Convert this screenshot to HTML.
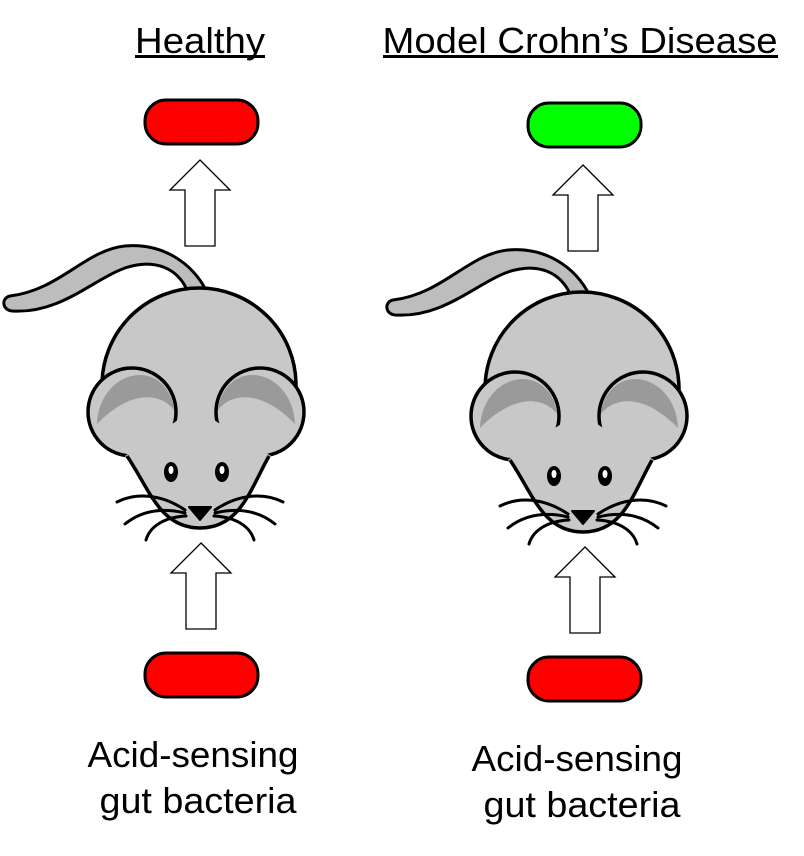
<!DOCTYPE html>
<html><head><meta charset="utf-8"><style>
html,body{margin:0;padding:0;background:#fff;}
svg{display:block;}
text{font-family:"Liberation Sans",sans-serif;fill:#000;}
</style></head><body>
<svg width="804" height="856" viewBox="0 0 804 856" xmlns="http://www.w3.org/2000/svg">
<defs>
<g id="mouse">
  <!-- tail -->
  <path d="M207,292 C192,262 162,243 125,246 C85,250 60,290 10,296 C1,298 2,310 12,311 C60,314 92,280 125,268 C155,258 178,268 188,292 Z" fill="#bdbdbd" stroke="#000" stroke-width="3" stroke-linejoin="round"/>
  <!-- body -->
  <circle cx="199" cy="385" r="97" fill="#c8c8c8" stroke="#000" stroke-width="3.5"/>
  <!-- ears -->
  <circle cx="132" cy="412" r="44" fill="#c8c8c8" stroke="#000" stroke-width="3.5"/>
  <circle cx="260" cy="412" r="44" fill="#c8c8c8" stroke="#000" stroke-width="3.5"/>
  <!-- crescents -->
  <path d="M97,424 C98,395 118,375 140,375 C158,375 172,390 174,410 C160,392 130,390 97,424 Z" fill="#9a9a9a"/>
  <path d="M295,424 C294,395 274,375 252,375 C234,375 220,390 218,410 C232,392 262,390 295,424 Z" fill="#9a9a9a"/>
  <!-- face fill covering ear inner bottoms -->
  <path d="M178,420 L214,420 L271,456 C250,490 240,528 200,528 C160,528 150,490 125,456 Z" fill="#c8c8c8"/>
  <path d="M127,456 C150,490 160,528 200,528 C240,528 250,490 269,456" fill="none" stroke="#000" stroke-width="3.5"/>
  <!-- eyes -->
  <ellipse cx="171" cy="472" rx="7" ry="10" fill="#000"/>
  <ellipse cx="171" cy="470" rx="2.5" ry="4" fill="#fff"/>
  <ellipse cx="222" cy="472" rx="7" ry="10" fill="#000"/>
  <ellipse cx="222" cy="470" rx="2.5" ry="4" fill="#fff"/>
  <!-- nose -->
  <path d="M189,507 L211,507 L200,520 Z" fill="#000" stroke="#000" stroke-width="2" stroke-linejoin="round"/>
  <!-- whiskers -->
  <g fill="none" stroke="#000" stroke-width="3" stroke-linecap="round">
    <path d="M185,510 C160,493 135,493 117,502"/>
    <path d="M185,513 C160,507 140,512 125,524"/>
    <path d="M186,516 C165,517 150,526 146,540"/>
    <path d="M215,510 C240,493 265,493 283,502"/>
    <path d="M215,513 C240,507 260,512 275,524"/>
    <path d="M214,516 C235,517 250,526 254,540"/>
  </g>
</g>
<g id="arrow">
  <path d="M0,0 L30,30 L15,30 L15,86 L-15,86 L-15,30 L-30,30 Z" fill="#fff" stroke="#000" stroke-width="1.3"/>
</g>
</defs>

<text x="200" y="53" font-size="36" text-anchor="middle" textLength="130" lengthAdjust="spacingAndGlyphs">Healthy</text>
<rect x="135" y="55" width="130" height="3" fill="#000"/>
<text x="580" y="53" font-size="36" text-anchor="middle" textLength="395" lengthAdjust="spacingAndGlyphs">Model Crohn’s Disease</text>
<rect x="383" y="55" width="395" height="3" fill="#000"/>

<rect x="145" y="100" width="113" height="44" rx="21" fill="#ff0000" stroke="#000" stroke-width="3"/>
<rect x="528" y="103" width="113" height="44" rx="21" fill="#00ff00" stroke="#000" stroke-width="3"/>
<rect x="145" y="653" width="113" height="44" rx="21" fill="#ff0000" stroke="#000" stroke-width="3"/>
<rect x="528" y="657" width="113" height="44" rx="21" fill="#ff0000" stroke="#000" stroke-width="3"/>

<use href="#arrow" transform="translate(200,160)"/>
<use href="#arrow" transform="translate(583,165)"/>
<use href="#arrow" transform="translate(201,543)"/>
<use href="#arrow" transform="translate(585,547)"/>

<use href="#mouse"/>
<use href="#mouse" transform="translate(383,4)"/>

<text x="193" y="767" font-size="36" text-anchor="middle" textLength="211" lengthAdjust="spacingAndGlyphs">Acid-sensing</text>
<text x="198" y="813" font-size="36" text-anchor="middle" textLength="197" lengthAdjust="spacingAndGlyphs">gut bacteria</text>
<text x="577" y="771" font-size="36" text-anchor="middle" textLength="211" lengthAdjust="spacingAndGlyphs">Acid-sensing</text>
<text x="582" y="817" font-size="36" text-anchor="middle" textLength="197" lengthAdjust="spacingAndGlyphs">gut bacteria</text>
</svg>
</body></html>
